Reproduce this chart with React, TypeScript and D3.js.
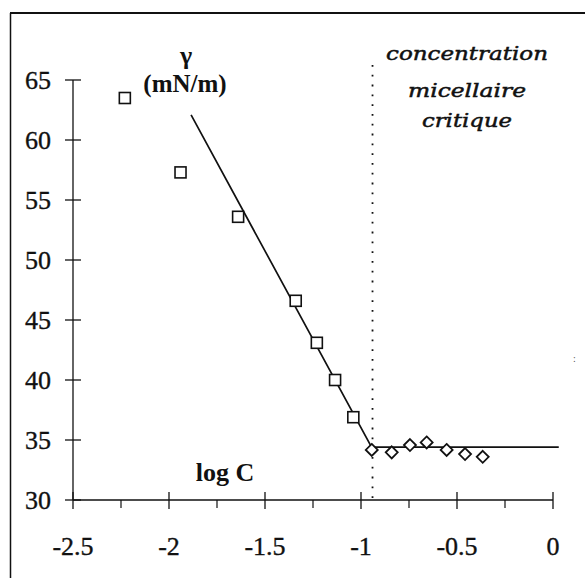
import React from "react";
import * as d3 from "d3";

const xTicks = [-2.5, -2, -1.5, -1, -0.5, 0];
const xTickLabels = ["-2.5", "-2", "-1.5", "-1", "-0.5", "0"];
const xMinorTicks = [-2.25, -1.75, -1.25, -0.75, -0.25];
const yTicks = [30, 35, 40, 45, 50, 55, 60, 65];
const yTickLabels = ["30", "35", "40", "45", "50", "55", "60", "65"];

const squareX = [-2.23, -1.94, -1.64, -1.34, -1.23, -1.135, -1.04];
const squareY = [63.5, 57.3, 53.6, 46.6, 43.1, 40.0, 36.9];

const diamondX = [-0.944, -0.84, -0.745, -0.658, -0.554, -0.458, -0.366];
const diamondY = [34.17, 33.97, 34.58, 34.8, 34.17, 33.83, 33.6];

const fitX = [-1.885, -0.945, 0.03];
const fitY = [62.1, 34.4, 34.4];

const cmcX = -0.94;
const cmcLines = ["concentration", "micellaire", "critique"];

export default function App() {
  const x = d3.scaleLinear().domain([-2.5, 0]).range([73, 553]);
  const y = d3.scaleLinear().domain([30, 65]).range([500, 80]);
  const line = d3
    .line<number>()
    .x((_, i) => x(fitX[i]))
    .y((_, i) => y(fitY[i]));
  const serif = "'Liberation Serif', 'Times New Roman', serif";
  const x0 = x(-2.5);
  const y0 = y(30);
  return (
    <svg
      width={585}
      height={578}
      style={{ position: "absolute", left: 0, top: 0, background: "#fff" }}
    >
      <rect x={0} y={0} width={585} height={578} fill="#fff" />
      {/* frame */}
      <line x1={10.5} y1={13} x2={10.5} y2={578} stroke="#111" strokeWidth={1.5} />
      <line x1={10} y1={13} x2={585} y2={13} stroke="#111" strokeWidth={1.8} />

      {/* axes */}
      <line x1={x0} y1={y(65)} x2={x0} y2={y0} stroke="#111" strokeWidth={1.3} />
      <line x1={x0} y1={y0} x2={x(0)} y2={y0} stroke="#111" strokeWidth={1.3} />
      {yTicks.map((t, i) => (
        <g key={"yt" + i}>
          <line x1={x0 - 8} x2={x0 + 8} y1={y(t)} y2={y(t)} stroke="#111" strokeWidth={1.3} />
          <text
            x={51}
            y={y(t) + 9}
            textAnchor="end"
            fontFamily={serif}
            fontSize={26}
            fill="#111"
            stroke="#111"
            strokeWidth={0.35}
          >
            {yTickLabels[i]}
          </text>
        </g>
      ))}
      {xTicks.map((t, i) => (
        <g key={"xt" + i}>
          <line x1={x(t)} x2={x(t)} y1={y0 - 8} y2={y0 + 9} stroke="#111" strokeWidth={1.3} />
          <text
            x={x(t)}
            y={555}
            textAnchor="middle"
            fontFamily={serif}
            fontSize={26}
            fill="#111"
            stroke="#111"
            strokeWidth={0.35}
          >
            {xTickLabels[i]}
          </text>
        </g>
      ))}
      {xMinorTicks.map((t, i) => (
        <line key={"xm" + i} x1={x(t)} x2={x(t)} y1={y0} y2={y0 + 8} stroke="#111" strokeWidth={1.2} />
      ))}

      {/* CMC dotted line */}
      <line
        x1={x(cmcX)}
        x2={x(cmcX)}
        y1={65}
        y2={505}
        stroke="#111"
        strokeWidth={1.8}
        strokeDasharray="1.8,8"
      />

      {/* fit line */}
      <path d={line(fitX) || ""} fill="none" stroke="#111" strokeWidth={1.7} />

      {/* squares */}
      {squareX.map((v, i) => (
        <rect
          key={"s" + i}
          x={x(v) - 5.5}
          y={y(squareY[i]) - 5.5}
          width={11}
          height={11}
          fill="#fff"
          stroke="#111"
          strokeWidth={1.6}
        />
      ))}
      {/* diamonds */}
      {diamondX.map((v, i) => {
        const cx = x(v);
        const cy = y(diamondY[i]);
        const r = 6;
        return (
          <path
            key={"d" + i}
            d={`M${cx},${cy - r}L${cx + r},${cy}L${cx},${cy + r}L${cx - r},${cy}Z`}
            fill="#fff"
            stroke="#111"
            strokeWidth={1.8}
          />
        );
      })}

      {/* labels */}
      <text x={186} y={64} textAnchor="middle" fontFamily={serif} fontWeight="bold" fontSize={26} fill="#111">
        γ
      </text>
      <text x={185} y={92} textAnchor="middle" fontFamily={serif} fontWeight="bold" fontSize={25} fill="#111">
        (mN/m)
      </text>
      <text x={225} y={481} textAnchor="middle" fontFamily={serif} fontWeight="bold" fontSize={26} fill="#111">
        log C
      </text>
      {cmcLines.map((s, i) => (
        <text
          key={"c" + i}
          x={467}
          y={[60, 97, 127][i]}
          textAnchor="middle"
          fontFamily="'DejaVu Serif', serif"
          fontStyle="italic"
          fontSize={19}
          fill="#111"
          stroke="#111"
          strokeWidth={0.5}
          textLength={[162, 118, 90][i]}
          lengthAdjust="spacingAndGlyphs"
        >
          {s}
        </text>
      ))}
      <text x={573} y={362} fontFamily={serif} fontSize={10} fill="#555">
        :
      </text>
    </svg>
  );
}
